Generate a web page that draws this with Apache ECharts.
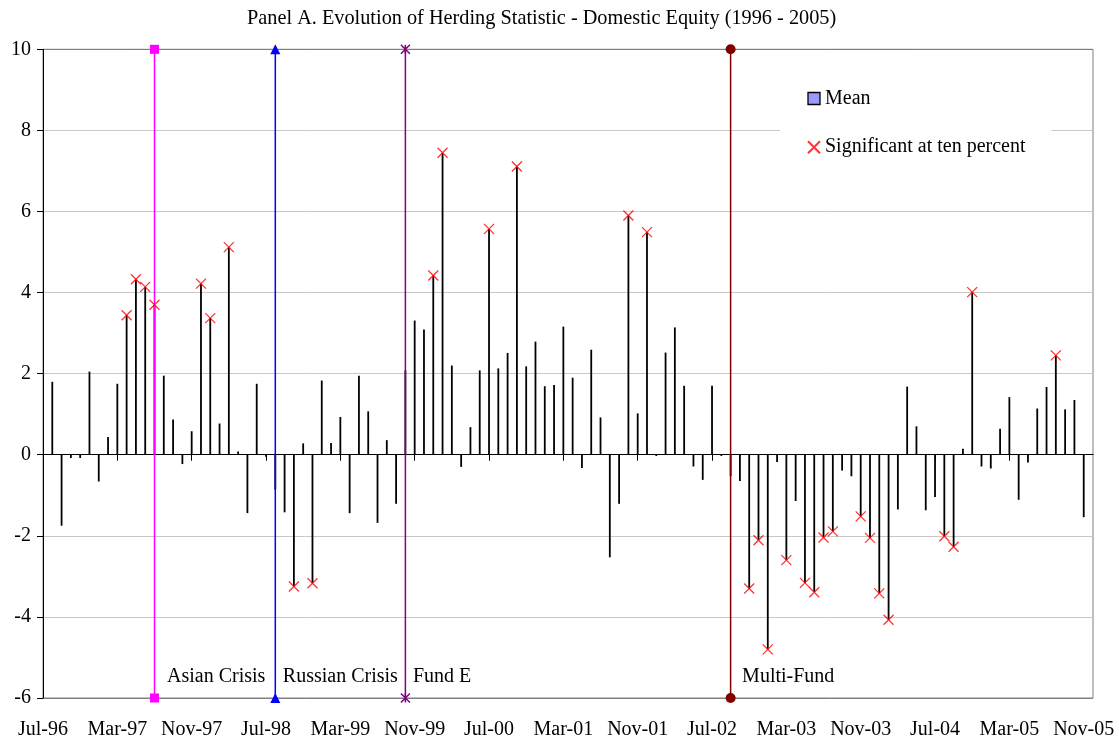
<!DOCTYPE html>
<html><head><meta charset="utf-8">
<script src="https://cdn.jsdelivr.net/npm/echarts@6/dist/echarts.min.js"></script>
<style>html,body{margin:0;padding:0;background:#fff}#c{width:1119px;height:740px}</style>
</head><body><div id="c"></div>
<script>
// ---- data ----
const monthNames = ['Jan','Feb','Mar','Apr','May','Jun','Jul','Aug','Sep','Oct','Nov','Dec'];
// axis runs Jul-96 .. Dec-05 (monthly)
const categories = [];
for (let i = 0; i < 114; i++) {
  const m = (6 + i) % 12, y = 1996 + Math.floor((6 + i) / 12);
  categories.push(monthNames[m] + '-' + String(y).slice(2));
}
// Mean herding statistic, Aug-96 .. Nov-05
const meanValues = [
  1.80,-1.75,-0.08,-0.08,2.05,-0.66,0.44,1.75,3.44,4.33,4.14,3.70,
  1.95,0.87,-0.23,0.58,4.22,3.37,0.77,5.12,0.08,-1.44,1.75,-0.05,
  -0.86,-1.42,-3.25,0.28,-3.17,1.83,0.29,0.93,-1.44,1.95,1.07,-1.68,
  0.36,-1.21,2.08,3.31,3.09,4.42,7.45,2.20,-0.30,0.68,2.08,5.57,
  2.13,2.51,7.11,2.18,2.79,1.69,1.72,3.16,1.90,-0.33,2.59,0.92,
  -2.53,-1.21,5.90,1.02,5.49,-0.03,2.52,3.14,1.70,-0.29,-0.62,1.70,
  -0.03,-0.53,-0.65,-3.30,-2.11,-4.80,-0.18,-2.60,-1.14,-3.16,-3.39,-2.04,
  -1.89,-0.39,-0.53,-1.52,-2.05,-3.42,-4.07,-1.35,1.68,0.70,-1.37,-1.04,
  -2.01,-2.27,0.15,4.01,-0.29,-0.34,0.64,1.42,-1.11,-0.19,1.14,1.67,
  2.45,1.12,1.35,-1.54
];
const sigMonths = ['Apr-97','May-97','Jun-97','Jul-97','Dec-97','Jan-98','Mar-98','Oct-98','Dec-98',
  'Jan-00','Feb-00','Jul-00','Oct-00','Oct-01','Dec-01','Nov-02','Dec-02','Jan-03','Mar-03','May-03',
  'Jun-03','Jul-03','Aug-03','Nov-03','Dec-03','Jan-04','Feb-04','Aug-04','Sep-04','Nov-04','Aug-05'];
const eventMonths = ['Jul-97','Aug-98','Oct-99','Sep-02'];
const eventNames = ['Asian Crisis','Russian Crisis','Fund E','Multi-Fund'];
const yMin = -6, yMax = 10, yStep = 2;
const titleText = 'Panel A. Evolution of Herding Statistic - Domestic Equity (1996 - 2005)';

// ---- styles ----
const FONT = 'Liberation Serif';
const FS = 20;
const eventStyles = [
  {color:'#FF00FF', symbol:'rect', size:9, labelGap:12},
  {color:'#0000FF', symbol:'triangle', size:10, labelGap:7},
  {color:'#800080', symbol:'path://M0,0L10,10M0,10L10,0M5,0L5,10', size:9, labelGap:7, hollow:true},
  {color:'#800000', symbol:'circle', size:10, labelGap:11}
];

const valueByMonth = {};
categories.forEach((c, i) => { valueByMonth[c] = (i >= 1 && i <= meanValues.length) ? meanValues[i - 1] : null; });
const barData = categories.map(c => valueByMonth[c]);

const series = [];
series.push({
  name: 'Mean', type: 'bar', xAxisIndex: 0, data: barData, barWidth: 1.8,
  itemStyle: {color: '#000'}, z: 2, silent: true
});
eventMonths.forEach((m, k) => {
  const st = eventStyles[k];
  series.push({
    type: 'line', xAxisIndex: 0, data: [[m, yMin], [m, yMax]],
    showSymbol: true, showAllSymbol: true, clip: false,
    lineStyle: {color: st.color, width: 1.5}, symbol: st.symbol, symbolSize: st.size,
    itemStyle: st.hollow ? {color: 'rgba(0,0,0,0)', borderColor: st.color, borderWidth: 1.5} : {color: st.color},
    z: 3, silent: true, animation: false
  });
  series.push({
    type: 'scatter', xAxisIndex: 0, data: [[m, -5.47]], symbol: 'rect', symbolSize: 1,
    itemStyle: {color: 'rgba(0,0,0,0)'},
    label: {show: true, position: 'right', distance: st.labelGap, formatter: eventNames[k],
      fontFamily: FONT, fontSize: FS, color: '#000', opacity: 1, textBorderWidth: 0},
    z: 4, silent: true
  });
});
series.push({
  name: 'Significant at ten percent', type: 'scatter', xAxisIndex: 0,
  data: sigMonths.map(m => [m, valueByMonth[m]]),
  symbol: 'path://M0,0L10,10M0,10L10,0', symbolSize: 10,
  itemStyle: {color: 'rgba(0,0,0,0)', borderColor: '#FF0000', borderWidth: 1.3},
  z: 6, silent: true
});

const nLines = (yMax - yMin) / yStep + 1;
const splitColors = [];
for (let i = 0; i < nLines; i++) splitColors.push(i === 0 || i === nLines - 1 ? '#808080' : '#C8C8C8');

const chart = echarts.init(document.getElementById('c'), null, {renderer: 'canvas'});
chart.setOption({
  animation: false,
  backgroundColor: '#fff',
  title: {text: titleText, left: 247, top: 8.5, padding: 0,
    textStyle: {fontFamily: FONT, fontSize: 20.3, fontWeight: 'normal', color: '#000'}},
  legend: {
    orient: 'vertical', left: 780, top: 74.5, padding: [14, 26, 14, 27],
    backgroundColor: '#fff', itemWidth: 12, itemHeight: 12, itemGap: 28.7, selectedMode: false,
    textStyle: {fontFamily: FONT, fontSize: FS, color: '#000', lineHeight: 20},
    data: [
      {name: 'Mean', icon: 'rect', itemStyle: {color: '#9999FF', borderColor: '#000', borderWidth: 1.3}},
      {name: 'Significant at ten percent'}
    ]
  },
  grid: {left: 43, right: 26, top: 49.3, bottom: 41.1, show: true, borderColor: '#808080', borderWidth: 1, backgroundColor: 'rgba(0,0,0,0)'},
  xAxis: [
    {type: 'category', data: categories, boundaryGap: false,
      axisLine: {onZero: true, lineStyle: {color: '#000', width: 1}},
      axisTick: {show: true, interval: 7, length: 6, inside: false, lineStyle: {color: '#000'}},
      axisLabel: {show: false}, splitLine: {show: false}},
    {type: 'category', data: categories, boundaryGap: false, position: 'bottom',
      axisLine: {show: false, onZero: false}, axisTick: {show: false},
      axisLabel: {show: true, interval: 7, margin: 22, fontFamily: FONT, fontSize: FS, color: '#000'},
      splitLine: {show: false}}
  ],
  yAxis: {
    type: 'value', min: yMin, max: yMax, interval: yStep,
    axisLine: {show: true, lineStyle: {color: '#000'}},
    axisTick: {show: true, length: 6, lineStyle: {color: '#000'}},
    axisLabel: {margin: 12, fontFamily: FONT, fontSize: FS, color: '#000'},
    splitLine: {show: true, lineStyle: {color: splitColors, width: 1}}
  },
  series: series
});
</script></body></html>
